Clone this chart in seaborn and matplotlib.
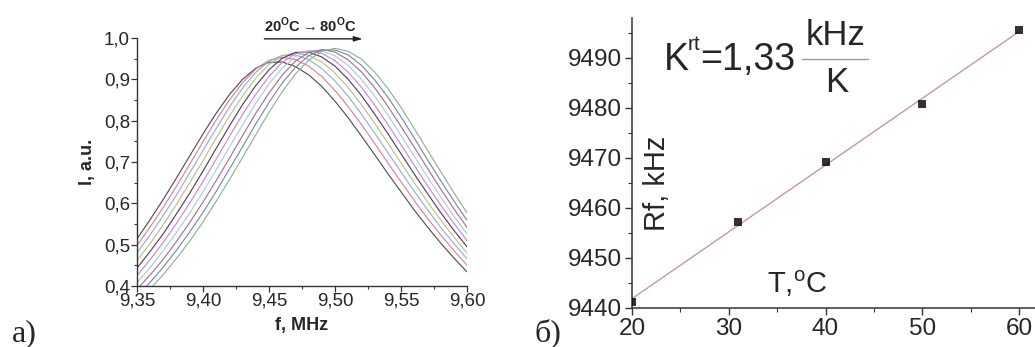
import numpy as np
import pandas as pd
import matplotlib
matplotlib.use('Agg')
import matplotlib.pyplot as plt
import seaborn as sns

# --- a) resonance curves, 20 C -> 80 C (read off the picture) ---
freq_mhz = [9.35, 9.36, 9.37, 9.38, 9.39, 9.40, 9.41, 9.42, 9.43, 9.44, 9.45, 9.46, 9.47,
            9.48, 9.49, 9.50, 9.51, 9.52, 9.53, 9.54, 9.55, 9.56, 9.57, 9.58, 9.59, 9.60]
intensity = [
    [0.514, 0.561, 0.610, 0.662, 0.715, 0.768, 0.818, 0.863, 0.900, 0.927, 0.941, 0.942, 0.931,
     0.911, 0.883, 0.847, 0.807, 0.763, 0.718, 0.672, 0.628, 0.584, 0.543, 0.504, 0.468, 0.434],
    [0.498, 0.543, 0.591, 0.642, 0.695, 0.749, 0.802, 0.850, 0.892, 0.925, 0.946, 0.953, 0.948,
     0.932, 0.907, 0.873, 0.834, 0.791, 0.745, 0.698, 0.652, 0.607, 0.564, 0.524, 0.486, 0.450],
    [0.480, 0.524, 0.571, 0.621, 0.674, 0.728, 0.781, 0.833, 0.879, 0.917, 0.944, 0.958, 0.959,
     0.948, 0.926, 0.896, 0.859, 0.816, 0.770, 0.723, 0.676, 0.629, 0.585, 0.542, 0.503, 0.466],
    [0.462, 0.503, 0.549, 0.598, 0.650, 0.703, 0.758, 0.811, 0.860, 0.903, 0.936, 0.957, 0.964,
     0.958, 0.942, 0.915, 0.880, 0.839, 0.794, 0.746, 0.698, 0.650, 0.604, 0.560, 0.519, 0.480],
    [0.443, 0.484, 0.527, 0.575, 0.625, 0.678, 0.733, 0.787, 0.839, 0.885, 0.923, 0.951, 0.965,
     0.966, 0.954, 0.932, 0.900, 0.861, 0.816, 0.769, 0.720, 0.671, 0.624, 0.578, 0.535, 0.495],
    [0.425, 0.464, 0.506, 0.552, 0.601, 0.653, 0.707, 0.762, 0.815, 0.864, 0.907, 0.941, 0.962,
     0.969, 0.963, 0.945, 0.917, 0.881, 0.838, 0.791, 0.742, 0.692, 0.643, 0.596, 0.552, 0.510],
    [0.408, 0.445, 0.486, 0.530, 0.577, 0.628, 0.681, 0.736, 0.790, 0.842, 0.889, 0.927, 0.955,
     0.969, 0.969, 0.957, 0.934, 0.900, 0.860, 0.814, 0.764, 0.714, 0.664, 0.616, 0.569, 0.526],
    [0.392, 0.427, 0.465, 0.508, 0.554, 0.603, 0.655, 0.709, 0.764, 0.818, 0.867, 0.910, 0.944,
     0.965, 0.972, 0.966, 0.947, 0.918, 0.880, 0.835, 0.786, 0.736, 0.685, 0.635, 0.587, 0.542],
    [0.376, 0.409, 0.446, 0.487, 0.531, 0.578, 0.629, 0.683, 0.737, 0.792, 0.844, 0.891, 0.929,
     0.957, 0.971, 0.971, 0.959, 0.934, 0.899, 0.857, 0.809, 0.758, 0.706, 0.655, 0.606, 0.559],
    [0.361, 0.393, 0.428, 0.467, 0.509, 0.555, 0.605, 0.657, 0.711, 0.766, 0.820, 0.870, 0.913,
     0.946, 0.968, 0.975, 0.968, 0.949, 0.918, 0.878, 0.832, 0.781, 0.729, 0.677, 0.626, 0.577],
]
curve_names = ['s%02d' % i for i in range(len(intensity))]
a_xticks = [9.35, 9.40, 9.45, 9.50, 9.55, 9.60]
a_xticklabels = ['9,35', '9,40', '9,45', '9,50', '9,55', '9,60']
a_yticks = [0.4, 0.5, 0.6, 0.7, 0.8, 0.9, 1.0]
a_yticklabels = ['0,4', '0,5', '0,6', '0,7', '0,8', '0,9', '1,0']

# --- b) resonance frequency vs temperature ---
temp_c = [20, 31, 40, 50, 60]
rf_khz = [9441.3, 9457.3, 9469.2, 9480.8, 9495.6]

W, H = 1035, 347
sns.set_style('ticks')
plt.rcParams['font.family'] = ['Liberation Sans', 'DejaVu Sans']
plt.rcParams['mathtext.fontset'] = 'custom'
plt.rcParams['mathtext.rm'] = 'Liberation Sans'
plt.rcParams['mathtext.bf'] = 'Liberation Sans:bold'

fig = plt.figure(figsize=(W / 100, H / 100), dpi=100)


def px(x, y):
    return x / W, 1 - y / H


# ---------- panel a ----------
ax1 = fig.add_axes([137 / W, 1 - 286 / H, 330 / W, 248 / H])
df = pd.DataFrame({
    'f': np.tile(freq_mhz, len(intensity)),
    'I': np.concatenate(intensity),
    'curve': np.repeat(curve_names, len(freq_mhz)),
})
pal = ['#4a4a4a', '#e07a95', '#86aee0', '#c9b77a', '#3c3f66',
       '#d77fc6', '#9ccfd9', '#b06a7a', '#6c87b0', '#8fae8a']
sns.lineplot(data=df, x='f', y='I', hue='curve', palette=pal, legend=False,
             linewidth=0.8, ax=ax1)
ax1.set_xlim(9.35, 9.60)
ax1.set_ylim(0.4, 1.0)
ax1.set_xticks(a_xticks)
ax1.set_xticklabels(a_xticklabels)
ax1.set_yticks(a_yticks)
ax1.set_yticklabels(a_yticklabels)
ax1.set_xticks([9.375, 9.425, 9.475, 9.525, 9.575], minor=True)
ax1.set_yticks([0.45, 0.55, 0.65, 0.75, 0.85, 0.95], minor=True)
ax1.tick_params(labelsize=13.5, length=4, width=0.9, color='#333333', pad=1)
ax1.tick_params(which='minor', length=2.5, width=0.8, color='#333333')
ax1.set_xlabel('f, MHz', fontsize=13, fontweight='bold', labelpad=5)
ax1.set_ylabel('I, a.u.', fontsize=13, fontweight='bold', labelpad=6)
sns.despine(ax=ax1)
for s in ('left', 'bottom'):
    ax1.spines[s].set_color('#333333')
    ax1.spines[s].set_linewidth(1.0)
ax1.annotate('', xy=(9.521, 0.998), xytext=(9.4465, 0.998),
             arrowprops=dict(arrowstyle='-|>,head_length=0.5,head_width=0.15',
                             color='#222222', lw=1.0, shrinkA=0, shrinkB=0))
ax1.text(9.4465, 1.0135, r'20$^\mathbf{O}$C$\rightarrow$80$^\mathbf{O}$C',
         fontsize=10.5, fontweight='bold', ha='left', va='baseline', color='#222222')

# ---------- panel b ----------
ax2 = fig.add_axes([632 / W, 1 - 308 / H, 403 / W, 290 / H])
sns.regplot(x=temp_c, y=rf_khz, ci=None, ax=ax2, marker='s',
            scatter_kws=dict(s=30, color='black', zorder=3, linewidths=0),
            line_kws=dict(color='#c49a9a', lw=1.0, zorder=2))
ax2.set_xlim(20, 20 + 403 / 9.675)
ax2.set_ylim(9440, 9498)
ax2.set_xticks([20, 30, 40, 50, 60])
ax2.set_yticks([9440, 9450, 9460, 9470, 9480, 9490])
ax2.set_xticks([25, 35, 45, 55], minor=True)
ax2.set_yticks([9445, 9455, 9465, 9475, 9485, 9495], minor=True)
ax2.tick_params(labelsize=17.5, length=5, width=1.0, color='#333333', pad=2)
ax2.tick_params(which='minor', length=3, width=0.8, color='#333333')
sns.despine(ax=ax2)
for s in ('left', 'bottom'):
    ax2.spines[s].set_color('#333333')
    ax2.spines[s].set_linewidth(1.1)

fig.text(*px(657, 183), 'Rf, kHz', rotation=90, fontsize=21, ha='center', va='center')
fig.text(*px(767, 293), r'T,$^\mathregular{o}$C', fontsize=21, ha='left', va='baseline')

# K^rt = 1,33 kHz/K
fig.text(*px(664, 70), 'K', fontsize=27, ha='left', va='baseline')
fig.text(*px(688, 50), 'rt', fontsize=15, ha='left', va='baseline')
fig.text(*px(700, 70), '=1,33', fontsize=27, ha='left', va='baseline')
fig.text(*px(836, 45), 'kHz', fontsize=25, ha='center', va='baseline')
fig.text(*px(837, 92), 'K', fontsize=25, ha='center', va='baseline')
fig.add_artist(plt.Line2D([802 / W, 868 / W], [1 - 59 / H, 1 - 59 / H],
                          color='#9a9a9a', lw=1.0))

# panel letters
fig.text(*px(12, 341), 'а)', fontsize=23, family='Liberation Serif', va='baseline')
fig.text(*px(534, 341), 'б)', fontsize=23, family='Liberation Serif', va='baseline')

fig.savefig('out.png', dpi=100)
